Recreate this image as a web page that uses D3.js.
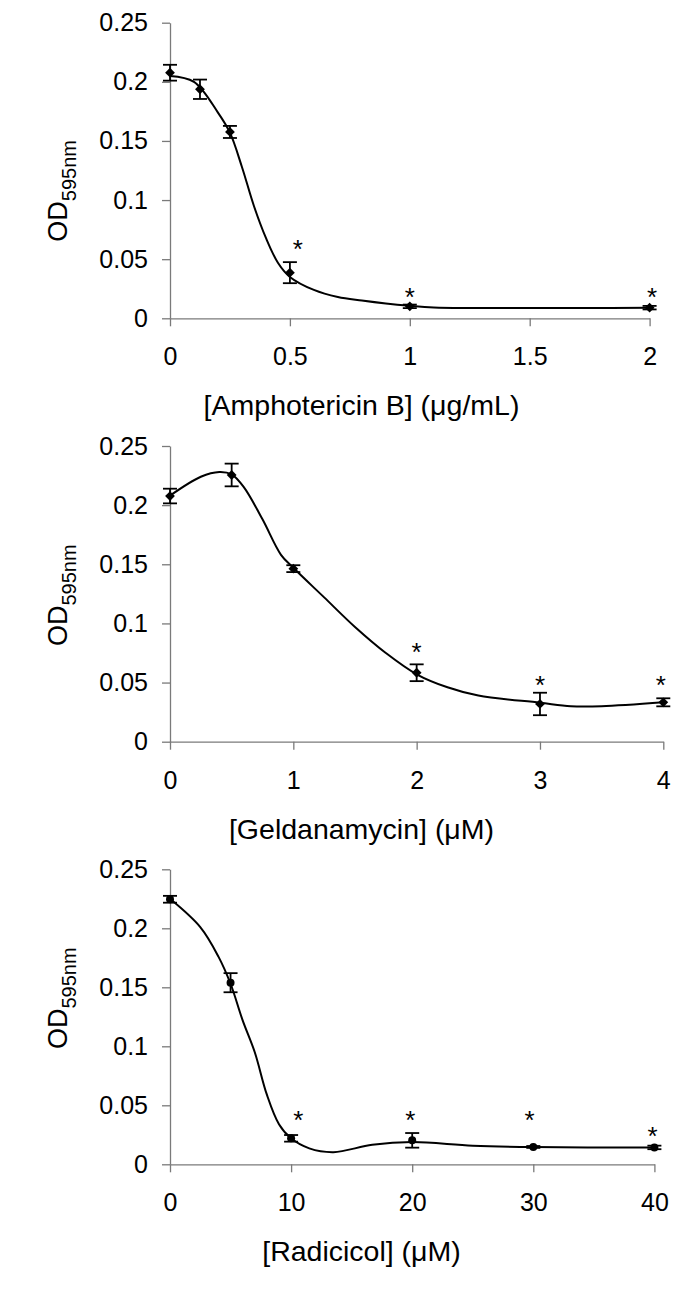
<!DOCTYPE html>
<html><head><meta charset="utf-8">
<script src="https://cdn.jsdelivr.net/npm/d3@7"></script>
<style>
body{margin:0;background:#fff}
svg{display:block;background:#fff}
text{font-family:"Liberation Sans",Arial,Helvetica,sans-serif;fill:#000}
</style>
</head><body>
<svg id="c" width="685" height="1290"></svg>
<script>
// ---------- DATA ----------
const yTickValues = [0, 0.05, 0.1, 0.15, 0.2, 0.25];
const yTickLabels = ["0", "0.05", "0.1", "0.15", "0.2", "0.25"];
const yTitleMain = "OD";
const yTitleSub = "595nm";

// Panel 1: Amphotericin B
const amphoDose = [0, 0.125, 0.25, 0.5, 1, 2];
const amphoOD   = [0.2077, 0.1937, 0.1576, 0.0386, 0.0101, 0.0090];
const amphoErr  = [0.0067, 0.0082, 0.0051, 0.0089, 0.0015, 0.0015];
const amphoFitX = [0, 0.1, 0.2, 0.25, 0.3, 0.35, 0.4, 0.45, 0.5, 0.6, 0.7, 0.8, 0.9, 1.0, 1.1, 2];
const amphoFitY = [0.205, 0.200, 0.174, 0.157, 0.128, 0.095, 0.068, 0.047, 0.035, 0.024, 0.018, 0.015, 0.0125, 0.0106, 0.0092, 0.0090];
const amphoStarX = [0.533, 1.0, 2.01];
const amphoStarY = [0.0634, 0.0225, 0.0225];
const amphoTicks = [0, 0.5, 1, 1.5, 2];
const amphoTickLabels = ["0", "0.5", "1", "1.5", "2"];
const amphoTitle = "[Amphotericin B] (μg/mL)";

// Panel 2: Geldanamycin
const geldDose = [0, 0.5, 1, 2, 3, 4];
const geldOD   = [0.2077, 0.2255, 0.1463, 0.0583, 0.0319, 0.0333];
const geldErr  = [0.0062, 0.0096, 0.0029, 0.0071, 0.0095, 0.0034];
const geldFitX = [0, 0.25, 0.4, 0.5, 0.6, 0.75, 0.9, 1.0, 1.25, 1.5, 1.75, 2.0, 2.25, 2.5, 3.0, 3.25, 3.5, 4];
const geldFitY = [0.208, 0.224, 0.228, 0.226, 0.215, 0.188, 0.158, 0.147, 0.122, 0.097, 0.075, 0.057, 0.046, 0.039, 0.033, 0.030, 0.030, 0.0333];
const geldStarX = [2, 3, 3.98];
const geldStarY = [0.0803, 0.0527, 0.0527];
const geldTicks = [0, 1, 2, 3, 4];
const geldTickLabels = ["0", "1", "2", "3", "4"];
const geldTitle = "[Geldanamycin] (μM)";

// Panel 3: Radicicol
const radDose = [0, 5, 10, 20, 30, 40];
const radOD   = [0.2246, 0.1539, 0.0220, 0.0203, 0.0147, 0.0143];
const radErr  = [0.0029, 0.0081, 0.0028, 0.0062, 0.0008, 0.0015];
const radFitX = [0, 2.5, 4, 5, 6, 7, 8, 9, 10, 11.5, 13.5, 16.7, 20, 25, 30, 40];
const radFitY = [0.225, 0.201, 0.176, 0.153, 0.122, 0.095, 0.059, 0.034, 0.022, 0.0135, 0.0103, 0.0165, 0.0188, 0.0158, 0.0146, 0.0142];
const radStarX = [10.6, 19.85, 29.7, 39.85];
const radStarY = [0.0424, 0.0424, 0.0424, 0.029];
const radTicks = [0, 10, 20, 30, 40];
const radTickLabels = ["0", "10", "20", "30", "40"];
const radTitle = "[Radicicol] (μM)";

// ---------- LAYOUT ----------
const panels = [
  {dose: amphoDose, od: amphoOD, err: amphoErr, fitX: amphoFitX, fitY: amphoFitY, starX: amphoStarX, starY: amphoStarY,
   ticks: amphoTicks, tickLabels: amphoTickLabels, title: amphoTitle,
   left: 170, right: 649.6, top: 22.7, bottom: 318.3, labelStart: 241.7, marker: "diamond"},
  {dose: geldDose, od: geldOD, err: geldErr, fitX: geldFitX, fitY: geldFitY, starX: geldStarX, starY: geldStarY,
   ticks: geldTicks, tickLabels: geldTickLabels, title: geldTitle,
   left: 170, right: 663.3, top: 446, bottom: 741.7, labelStart: 646, marker: "diamond"},
  {dose: radDose, od: radOD, err: radErr, fitX: radFitX, fitY: radFitY, starX: radStarX, starY: radStarY,
   ticks: radTicks, tickLabels: radTickLabels, title: radTitle,
   left: 170, right: 654.4, top: 869.3, bottom: 1164.3, labelStart: 1049, marker: "circle"}
];

const svg = d3.select("#c");
svg.append("rect").attr("width", 685).attr("height", 1290).attr("fill", "#fff");

const axisColor = "#7a7a7a";

panels.forEach(p => {
  const xMax = p.ticks[p.ticks.length - 1];
  const x = d3.scaleLinear().domain([0, xMax]).range([p.left, p.right]);
  const y = d3.scaleLinear().domain([0, 0.25]).range([p.bottom, p.top]);
  const g = svg.append("g");

  // Y axis
  const ya = g.append("g").attr("transform", `translate(${p.left},0)`)
    .call(d3.axisLeft(y).tickValues(yTickValues).tickFormat((d, i) => yTickLabels[i])
      .tickSize(8).tickSizeOuter(0).tickPadding(14));
  ya.select(".domain").attr("stroke", axisColor).attr("stroke-width", 1.3);
  ya.selectAll(".tick line").attr("stroke", axisColor).attr("stroke-width", 1.3);
  ya.selectAll(".tick text").attr("font-size", 25).attr("font-family", null).attr("fill", "#000");

  // X axis
  const xa = g.append("g").attr("transform", `translate(0,${p.bottom})`)
    .call(d3.axisBottom(x).tickValues(p.ticks).tickFormat((d, i) => p.tickLabels[i])
      .tickSize(8).tickSizeOuter(0));
  xa.select(".domain").attr("stroke", axisColor).attr("stroke-width", 1.3);
  xa.selectAll(".tick line").attr("stroke", axisColor).attr("stroke-width", 1.3);
  xa.selectAll(".tick text").attr("font-size", 25).attr("font-family", null).attr("fill", "#000")
    .attr("dy", null).attr("y", 47);
  svg.selectAll(".domain").attr("fill", "none");

  // X title
  g.append("text").attr("x", 361.5).attr("y", p.bottom + 97).attr("text-anchor", "middle")
    .attr("font-size", 28.5).text(p.title);

  // Y title
  const yt = g.append("text").attr("transform", `translate(67,${p.labelStart}) rotate(-90)`)
    .attr("text-anchor", "start");
  yt.append("tspan").attr("font-size", 27).text(yTitleMain);
  yt.append("tspan").attr("font-size", 20).attr("dy", 9).text(yTitleSub);

  // Fitted smooth curve
  const fit = p.fitX.map((v, i) => [v, p.fitY[i]]);
  g.append("path").datum(fit)
    .attr("d", d3.line().x(d => x(d[0])).y(d => y(d[1])).curve(d3.curveCatmullRom.alpha(0.5)))
    .attr("fill", "none").attr("stroke", "#000").attr("stroke-width", 2);

  // Error bars
  const pts = p.dose.map((v, i) => ({x: v, y: p.od[i], e: p.err[i]}));
  const eb = g.append("g").attr("stroke", "#000").attr("stroke-width", 1.8);
  pts.forEach(d => {
    const cx = x(d.x), y1 = y(d.y + d.e), y2 = y(d.y - d.e);
    eb.append("line").attr("x1", cx).attr("x2", cx).attr("y1", y1).attr("y2", y2);
    eb.append("line").attr("x1", cx - 7).attr("x2", cx + 7).attr("y1", y1).attr("y2", y1);
    eb.append("line").attr("x1", cx - 7).attr("x2", cx + 7).attr("y1", y2).attr("y2", y2);
  });

  // Markers
  const sym = p.marker === "diamond"
    ? d3.symbol().type(d3.symbolSquare).size(48)
    : d3.symbol().type(d3.symbolCircle).size(50);
  g.append("g").selectAll("path").data(pts).join("path")
    .attr("d", sym)
    .attr("transform", d => `translate(${x(d.x)},${y(d.y)})${p.marker === "diamond" ? " rotate(45)" : ""}`)
    .attr("fill", "#000");

  // Significance asterisks
  g.append("g").selectAll("text").data(p.starX.map((v, i) => [v, p.starY[i]])).join("text")
    .attr("x", d => x(d[0])).attr("y", d => y(d[1]) + 14.5)
    .attr("text-anchor", "middle").attr("font-size", 26).text("*");
});
</script>
</body></html>
